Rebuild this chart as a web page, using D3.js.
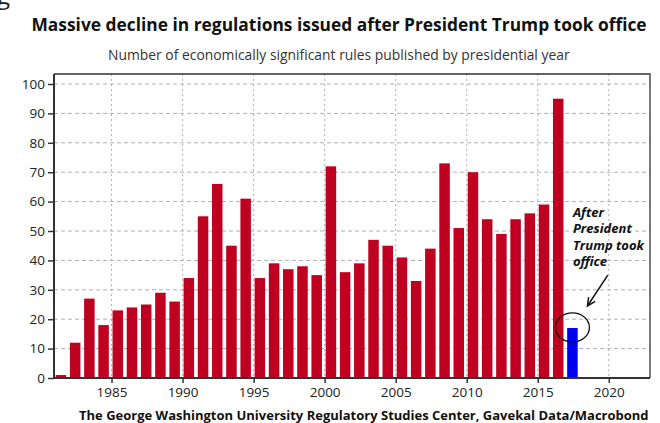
<!DOCTYPE html>
<html>
<head>
<meta charset="utf-8">
<script src="https://cdn.jsdelivr.net/npm/d3@7"></script>
<style>
  body { margin: 0; background: #fff; }
  svg { display: block; font-family: "Open Sans", "Noto Sans", sans-serif; }
</style>
</head>
<body>
<div id="chart"></div>
<script>
// presidential years, bar drawn over Feb..Jan of the next year
const years = d3.range(1981, 2018);
const rules = [1, 12, 27, 18, 23, 24, 25, 29, 26, 34,
               55, 66, 45, 61, 34, 39, 37, 38, 35, 72,
               36, 39, 47, 45, 41, 33, 44, 73, 51, 70,
               54, 49, 54, 56, 59, 95, 17];
const trumpYear = 2017;
const yTicks = d3.range(0, 101, 10);
const xTicks = [1985, 1990, 1995, 2000, 2005, 2010, 2015, 2020];

const W = 660, H = 423;
const margin = {top: 74, right: 10, bottom: 45, left: 54};

const svg = d3.select("#chart").append("svg")
    .attr("width", W).attr("height", H);

// crop remnant of the line above
svg.append("text").attr("x", -3).attr("y", 4)
    .style("font-size", "24px").style("fill", "#222").text("g");

const x = d3.scaleLinear().domain([1980.95, 2022.9]).range([margin.left, W - margin.right]);
const y = d3.scaleLinear().domain([0, 100]).range([H - margin.bottom, 84]);

// grid
svg.append("g").selectAll("line").data(yTicks.slice(1)).join("line")
    .attr("x1", margin.left).attr("x2", W - margin.right)
    .attr("y1", d => y(d)).attr("y2", d => y(d))
    .attr("stroke", "#b0b0b0").attr("stroke-width", 1).attr("stroke-dasharray", "4,3");
svg.append("g").selectAll("line").data(xTicks).join("line")
    .attr("x1", d => x(d)).attr("x2", d => x(d))
    .attr("y1", margin.top).attr("y2", y(0))
    .attr("stroke", "#b0b0b0").attr("stroke-width", 1).attr("stroke-dasharray", "2,3");

// bars
const bw = (x(1) - x(0)) * 0.74;
svg.append("g").selectAll("rect").data(years).join("rect")
    .attr("x", (d) => x(d + 0.44) - bw / 2)
    .attr("width", bw)
    .attr("y", (d, i) => y(rules[i]))
    .attr("height", (d, i) => y(0) - y(rules[i]))
    .attr("fill", d => d === trumpYear ? "#0000f0" : "#c00020");

// frame
svg.append("path")
    .attr("d", `M${margin.left},${margin.top}H${W - margin.right}V${y(0)}`)
    .attr("fill", "none").attr("stroke", "#333").attr("stroke-width", 1.3);

// axes
const yAxis = svg.append("g").attr("transform", `translate(${margin.left},0)`)
    .call(d3.axisLeft(y).tickValues(yTicks).tickSize(6).tickPadding(3));
const xAxis = svg.append("g").attr("transform", `translate(0,${y(0)})`)
    .call(d3.axisBottom(x).tickValues(xTicks).tickFormat(d3.format("d")).tickSize(5).tickPadding(4));
yAxis.select(".domain").attr("d", `M0,${margin.top}V${y(0)}`);
xAxis.select(".domain").attr("d", `M${margin.left},0H${W - margin.right}`);
[yAxis, xAxis].forEach(a => {
  a.select(".domain").attr("stroke", "#333").attr("stroke-width", 2);
  a.selectAll(".tick line").attr("stroke", "#333").attr("stroke-width", 1.5);
  a.selectAll("text").style("font-size", "13.5px").style("fill", "#222")
      .style("font-family", "'Open Sans', sans-serif");
});

// shrink a text until it fits the width it has in the original
function fitText(sel, width, size) {
  sel.style("font-size", size + "px");
  const len = sel.node().getComputedTextLength();
  if (len > width) sel.style("font-size", (size * width / len).toFixed(2) + "px");
  return sel;
}

// titles
fitText(svg.append("text").attr("x", 31.5).attr("y", 31)
    .style("font-weight", "bold").style("fill", "#111")
    .text("Massive decline in regulations issued after President Trump took office"), 616, 18);
fitText(svg.append("text").attr("x", 108).attr("y", 60)
    .style("fill", "#333")
    .text("Number of economically significant rules published by presidential year"), 462, 14);
fitText(svg.append("text").attr("x", 79).attr("y", 419.5)
    .style("font-weight", "bold").style("fill", "#111")
    .text("The George Washington University Regulatory Studies Center, Gavekal Data/Macrobond"), 578, 13);

// annotation
const note = ["After", "President", "Trump took", "office"];
svg.append("g").selectAll("text").data(note).join("text")
    .attr("x", x(2017.44) + 0.5)
    .attr("y", (d, i) => 216.5 + i * 16.5)
    .style("font-size", "13px").style("font-style", "italic").style("font-weight", "bold")
    .style("fill", "#111").text(d => d);

const tip = [x(2017.44) + 15, y(24.5)], tail = [x(2019.93), y(35)];
svg.append("line")
    .attr("x1", tail[0]).attr("y1", tail[1]).attr("x2", tip[0]).attr("y2", tip[1])
    .attr("stroke", "#111").attr("stroke-width", 1.5);
const ang = Math.atan2(tip[1] - tail[1], tip[0] - tail[0]);
const head = [ang + Math.PI - 0.45, ang + Math.PI + 0.45].map(a => [tip[0] + 9 * Math.cos(a), tip[1] + 9 * Math.sin(a)]);
svg.append("path")
    .attr("d", `M${head[0]}L${tip}L${head[1]}`)
    .attr("fill", "none").attr("stroke", "#111").attr("stroke-width", 1.5);

svg.append("ellipse")
    .attr("cx", x(2017.44)).attr("cy", y(17.2))
    .attr("rx", 17).attr("ry", 14.5)
    .attr("fill", "none").attr("stroke", "#111").attr("stroke-width", 1.3);
</script>
</body>
</html>
